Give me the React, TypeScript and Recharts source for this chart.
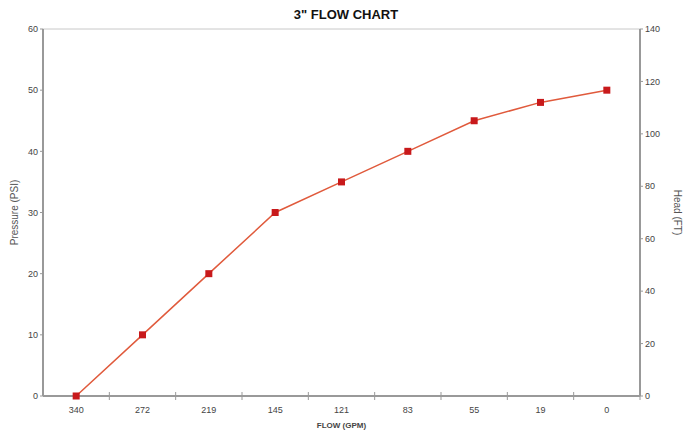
import React from 'react';
import { LineChart, Line, XAxis, YAxis, CartesianGrid } from 'recharts';

const flowLabels = ['340', '272', '219', '145', '121', '83', '55', '19', '0'];
const pressureValues = [0, 10, 20, 30, 35, 40, 45, 48, 50];
const psiTicks = [0, 10, 20, 30, 40, 50, 60];
const headTicks = [0, 20, 40, 60, 80, 100, 120, 140];

const data = flowLabels.map((f, i) => ({ flow: f, psi: pressureValues[i] }));

const FONT = 'Arial, "Liberation Sans", sans-serif';

const XTick = (props: any) => {
  const { x, y, payload } = props;
  const off = payload && payload.offset ? payload.offset : 0;
  return (
    <g>
      <line x1={x + off} x2={x + off} y1={y - 12} y2={y - 4} stroke="#999" strokeWidth={1} />
      <text x={x} y={y + 9} textAnchor="middle" fontSize={9} fill="#444" fontFamily={FONT}>
        {payload.value}
      </text>
    </g>
  );
};

const Marker = (props: any) => {
  const { cx, cy } = props;
  if (cx == null || cy == null) return null;
  return <rect x={cx - 3.5} y={cy - 3.5} width={7} height={7} fill="#c8191b" />;
};

export default function App() {
  return (
    <div style={{ position: 'absolute', left: 0, top: 0, width: 692, height: 431, background: '#fff' }}>
      <LineChart
        width={692}
        height={431}
        data={data}
        margin={{ top: 29, right: 0, bottom: 0, left: 0 }}
      >
        <text x={346} y={19} textAnchor="middle" fontSize={13} fontWeight="bold" fill="#111" fontFamily={FONT}>
          3" FLOW CHART
        </text>
        <CartesianGrid vertical={false} stroke="#c8c8c8" strokeWidth={1} />
        <XAxis
          dataKey="flow"
          scale="band"
          height={35}
          tick={<XTick />}
          tickLine={false}
          axisLine={{ stroke: '#999', strokeWidth: 2 }}
          interval={0}
          label={{ value: 'FLOW (GPM)', position: 'insideBottom', offset: 3, fontSize: 8, fontWeight: 'bold', fill: '#444', fontFamily: FONT }}
        />
        <YAxis
          yAxisId="left"
          domain={[0, 60]}
          ticks={psiTicks}
          width={43}
          tick={{ fontSize: 9, fill: '#444', fontFamily: FONT }}
          tickSize={3}
          tickLine={{ stroke: '#999' }}
          axisLine={{ stroke: '#999', strokeWidth: 2 }}
          label={{ value: 'Pressure (PSI)', angle: -90, position: 'insideLeft', offset: 14, fontSize: 10, fill: '#555', fontFamily: FONT, style: { textAnchor: 'middle' } }}
        />
        <YAxis
          yAxisId="right"
          orientation="right"
          domain={[0, 140]}
          ticks={headTicks}
          type="number"
          width={52}
          tick={{ fontSize: 9, fill: '#444', fontFamily: FONT }}
          tickSize={3}
          tickLine={{ stroke: '#999' }}
          axisLine={{ stroke: '#999', strokeWidth: 2 }}
          label={{ value: 'Head (FT)', angle: 90, position: 'insideRight', offset: 14, fontSize: 10, fill: '#555', fontFamily: FONT, style: { textAnchor: 'middle' } }}
        />
        <Line
          yAxisId="right"
          dataKey="psi"
          stroke="none"
          dot={false}
          activeDot={false}
          legendType="none"
          isAnimationActive={false}
        />
        <Line
          yAxisId="left"
          dataKey="psi"
          stroke="#e05a3c"
          strokeWidth={1.5}
          dot={<Marker />}
          activeDot={false}
          isAnimationActive={false}
        />
      </LineChart>
    </div>
  );
}
